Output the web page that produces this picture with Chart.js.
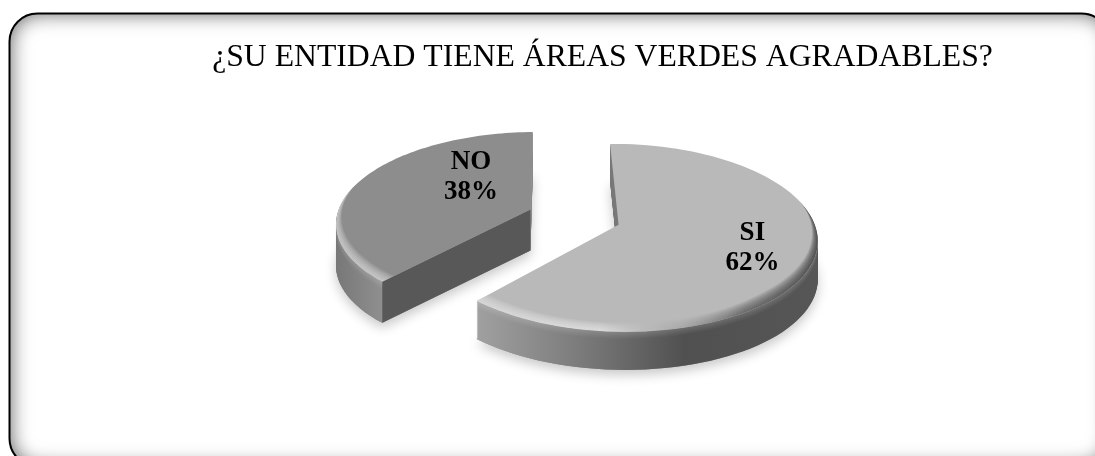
<!DOCTYPE html>
<html><head><meta charset="utf-8">
<style>html,body{margin:0;padding:0;background:#fff}#w{width:1095px;height:456px;position:relative}canvas{display:block}</style>
<script src="https://cdn.jsdelivr.net/npm/chart.js@4"></script>
</head><body><div id="w"><canvas id="c" width="1095" height="456"></canvas></div>
<script>
const categories = ["SI", "NO"];
const seriesValues = [62, 38];
const chartTitle = "¿SU ENTIDAD TIENE ÁREAS VERDES AGRADABLES?";
const sliceColors = ["#b9b9b9", "#8d8d8d"];

// view of the flat pie
const view = {cx: 574, cy: 217, rx: 194, ry: 90, k: 0.138};
function project(u, v) {
  const s = 1 / (1 + view.k * v);
  return [view.cx + view.rx * u * s, view.cy - view.ry * v * s];
}
function pointOf(arc, frac, ang) {
  // chart-space point on a slice, normalised by the library's radius, then projected
  const mid = (arc.startAngle + arc.endAngle) / 2;
  const off = (arc.options.offset || 0);
  const R = arc.outerRadius;
  const ex = Math.cos(mid) * off + Math.cos(ang) * R * frac;
  const ey = Math.sin(mid) * off + Math.sin(ang) * R * frac;
  return project(ex / R, -ey / R);
}
function slicePath(ctx, arc, dy) {
  const n = 90;
  ctx.beginPath();
  const a = pointOf(arc, 0, arc.startAngle);
  ctx.moveTo(a[0], a[1] + dy);
  for (let i = 0; i <= n; i++) {
    const t = arc.startAngle + (arc.endAngle - arc.startAngle) * i / n;
    const p = pointOf(arc, 1, t);
    ctx.lineTo(p[0], p[1] + dy);
  }
  ctx.closePath();
}
function grad(ctx, x0, x1, stops) {
  const g = ctx.createLinearGradient(x0, 0, x1, 0);
  stops.forEach(s => g.addColorStop(s[0], s[1]));
  return g;
}
const pie3d = {
  id: "pie3d",
  beforeDraw(chart) {
    const ctx = chart.ctx, W = 1095, H = 456;
    const x = 9.5, y = 13.5, w = 1100, h = 453, r = 28;
    ctx.save();
    ctx.fillStyle = "#fff"; ctx.fillRect(0, 0, W, H);
    const frame = () => { ctx.beginPath(); ctx.roundRect(x, y, w, h, r); };
    // inner glow: the area outside the frame casts a shadow into it
    ctx.save();
    frame(); ctx.clip();
    ctx.shadowColor = "rgba(0,0,0,0.62)"; ctx.shadowBlur = 20; ctx.shadowOffsetX = 1; ctx.shadowOffsetY = 0;
    ctx.beginPath(); ctx.rect(-100, -100, 1400, 700); ctx.roundRect(x, y, w, h, r);
    ctx.fillStyle = "#000"; ctx.fill("evenodd");
    ctx.restore();
    frame(); ctx.strokeStyle = "#000"; ctx.lineWidth = 2; ctx.stroke();
    ctx.restore();
  },
  beforeDatasetDraw(chart, args) {
    const ctx = chart.ctx, meta = args.meta;
    const si = meta.data[0], no = meta.data[1];
    ctx.save();
    // soft ground shadow
    ctx.save();
    ctx.shadowColor = "rgba(0,0,0,0.22)"; ctx.shadowBlur = 12; ctx.shadowOffsetY = 5;
    ctx.fillStyle = "#888";
    slicePath(ctx, no, 41); ctx.fill();
    slicePath(ctx, si, 38); ctx.fill();
    ctx.restore();
    drawSlice(ctx, no, 41, sliceColors[1], grad(ctx, 337, 540, [[0, "#787878"], [0.25, "#929292"], [1, "#8a8a8a"]]), "#585858", no.startAngle);
    drawSlice(ctx, si, 38, sliceColors[0], grad(ctx, 472, 816, [[0, "#a2a2a2"], [0.3, "#7d7d7d"], [0.62, "#505050"], [1, "#565656"]]), "#787878", si.startAngle);
    ctx.restore();
    return false;
  },
  afterDatasetsDraw(chart) {
    const ctx = chart.ctx, meta = chart.getDatasetMeta(0);
    const nudge = [[-5, -1], [64, -10.5]];
    ctx.save();
    ctx.fillStyle = "#000"; ctx.textAlign = "center"; ctx.textBaseline = "middle";
    ctx.font = "bold 27px 'Liberation Serif'";
    meta.data.forEach((a, i) => {
      const mid = (a.startAngle + a.endAngle) / 2;
      const p = pointOf(a, 0.72, mid);
      const x = p[0] + nudge[i][0], y = p[1] + nudge[i][1];
      ctx.fillText(categories[i], x, y - 15);
      ctx.fillText(seriesValues[i] + "%", x, y + 15);
    });
    ctx.restore();
  }
};
function drawSlice(ctx, arc, d, top, side, cut, cutAng) {
  // extruded walls
  for (let i = d; i >= 1; i--) {
    slicePath(ctx, arc, i);
    ctx.fillStyle = side; ctx.fill();
    if (i <= 7) { ctx.fillStyle = "rgba(255,255,255," + (0.022 * (8 - i)) + ")"; ctx.fill(); }
  }
  // cut face
  const a = pointOf(arc, 0, cutAng), b = pointOf(arc, 1, cutAng);
  ctx.beginPath(); ctx.moveTo(a[0], a[1]); ctx.lineTo(b[0], b[1]); ctx.lineTo(b[0], b[1] + d); ctx.lineTo(a[0], a[1] + d); ctx.closePath();
  ctx.fillStyle = cut; ctx.fill();
  // top face
  slicePath(ctx, arc, 0);
  ctx.fillStyle = top; ctx.fill();
  // rim bevel
  ctx.save();
  slicePath(ctx, arc, 0); ctx.clip();
  const steps = 10, n = 90;
  for (let s = steps; s >= 1; s--) {
    ctx.beginPath();
    for (let i = 0; i <= n; i++) {
      const t = arc.startAngle + (arc.endAngle - arc.startAngle) * i / n;
      const p = pointOf(arc, 1, t);
      i ? ctx.lineTo(p[0], p[1]) : ctx.moveTo(p[0], p[1]);
    }
    for (let i = n; i >= 0; i--) {
      const t = arc.startAngle + (arc.endAngle - arc.startAngle) * i / n;
      const front = Math.max(0, Math.min(1, Math.sin(t) + 0.25));
      const p = pointOf(arc, 1 - 0.0075 * s * front, t);
      ctx.lineTo(p[0], p[1]);
    }
    ctx.closePath();
    ctx.fillStyle = grad(ctx, 337, 816, [[0, "rgba(215,215,215,0.12)"], [0.55, "rgba(235,235,235,0.1)"], [0.72, "rgba(150,150,150,0.06)"], [0.85, "rgba(70,70,70,0.1)"], [1, "rgba(50,50,50,0.13)"]]);
    ctx.fill();
  }
  ctx.restore();
}
new Chart(document.getElementById("c"), {
  type: "pie",
  data: {labels: categories, datasets: [{data: seriesValues, backgroundColor: sliceColors, borderWidth: 0, offset: 41}]},
  options: {
    responsive: false, animation: false, rotation: -1,
    layout: {padding: {left: 110, top: 39, right: 0, bottom: 0}},
    plugins: {
      legend: {display: false}, tooltip: {enabled: false},
      title: {display: true, text: chartTitle, color: "#000", font: {family: "'Liberation Serif'", size: 31.7, weight: "normal"}, padding: 0}
    }
  },
  plugins: [pie3d]
});
</script></body></html>
